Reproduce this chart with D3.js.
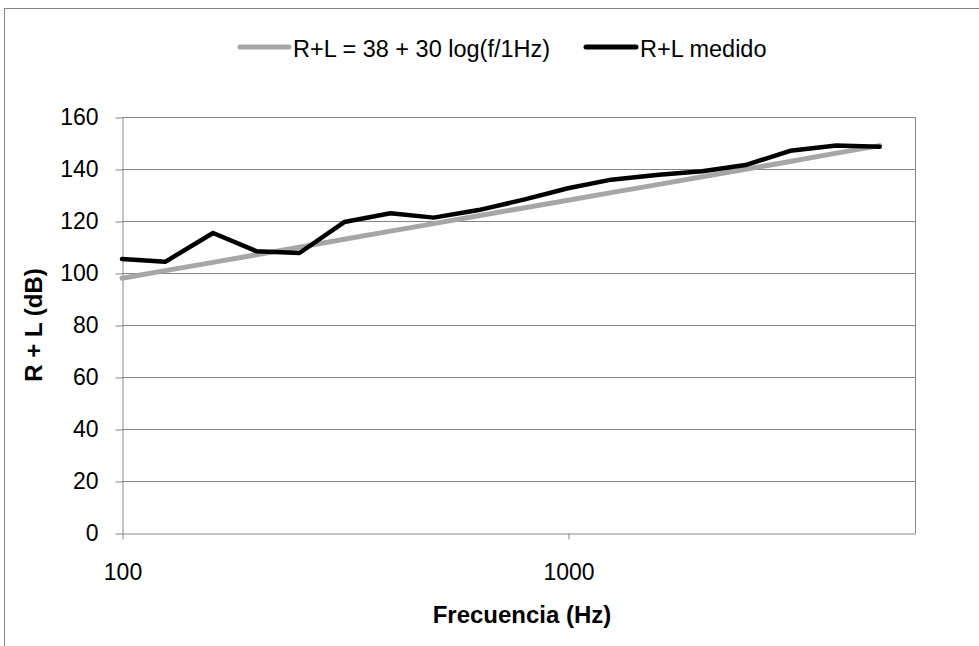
<!DOCTYPE html>
<html>
<head>
<meta charset="utf-8">
<script src="https://cdn.jsdelivr.net/npm/d3@7"></script>
<style>
  html, body { margin: 0; padding: 0; background: #fff; }
  svg { display: block; font-family: "Liberation Sans", Arial, sans-serif; }
</style>
</head>
<body>
<div id="chart"></div>
<script>
// frecuencias de tercio de octava (Hz)
var freqs = [100, 125, 160, 200, 250, 315, 400, 500, 630, 800, 1000, 1250, 1600, 2000, 2500, 3150, 4000, 5000];
// R+L teorico = 38 + 30 log(f/1Hz)
var teorico = [98.0, 100.9, 104.1, 107.0, 109.9, 113.0, 116.1, 119.0, 122.0, 125.1, 128.0, 130.9, 134.1, 137.0, 139.9, 142.9, 146.1, 149.0];
// R+L medido
var medido = [105.4, 104.3, 115.4, 108.4, 107.7, 119.6, 123.0, 121.3, 124.2, 128.3, 132.6, 135.9, 137.8, 139.1, 141.5, 147.0, 149.0, 148.6];
var yTicks = [0, 20, 40, 60, 80, 100, 120, 140, 160];
var xTicks = [100, 1000];
var seriesNames = ['R+L = 38 + 30 log(f/1Hz)', 'R+L medido'];

var W = 979, H = 646;
var plot = { left: 122, right: 915, top: 117, bottom: 533 };
var gridColor = '#868686';
var fontTick = 23;

var svg = d3.select('#chart').append('svg')
  .attr('width', W).attr('height', H);

// marco exterior del grafico (recortado a la derecha y abajo)
svg.append('rect')
  .attr('x', 4.5).attr('y', 8.5)
  .attr('width', W + 10).attr('height', H + 10)
  .attr('fill', '#fff').attr('stroke', gridColor).attr('stroke-width', 1);

var x = d3.scaleLog().domain([100, 6000]).range([plot.left, plot.right]);
var y = d3.scaleLinear().domain([0, 160]).range([plot.bottom, plot.top]);

// lineas de grilla horizontales
svg.append('g').selectAll('line').data(yTicks.filter(function(d) { return d > 0; }))
  .enter().append('line')
  .attr('x1', plot.left).attr('x2', plot.right)
  .attr('y1', function(d) { return Math.round(y(d)) + 0.5; })
  .attr('y2', function(d) { return Math.round(y(d)) + 0.5; })
  .attr('stroke', gridColor).attr('stroke-width', 1);

// borde derecho del area de trazado
svg.append('line')
  .attr('x1', plot.right + 0.5).attr('x2', plot.right + 0.5)
  .attr('y1', plot.top).attr('y2', plot.bottom)
  .attr('stroke', gridColor);

// eje Y
var yAxis = svg.append('g')
  .attr('transform', 'translate(' + (plot.left + 0.5) + ',0.5)')
  .call(d3.axisLeft(y).tickValues(yTicks).tickSize(7).tickPadding(17).tickSizeOuter(0));
yAxis.select('.domain').attr('stroke', gridColor);
yAxis.selectAll('.tick line').attr('stroke', gridColor);
yAxis.selectAll('.tick text').attr('font-size', fontTick).attr('fill', '#000')
  .attr('font-family', '"Liberation Sans", Arial, sans-serif');

// eje X
var xAxis = svg.append('g')
  .attr('transform', 'translate(0.5,' + (plot.bottom + 0.5) + ')')
  .call(d3.axisBottom(x).tickValues(xTicks).tickFormat(d3.format('d')).tickSize(6).tickPadding(24).tickSizeOuter(0));
xAxis.select('.domain').attr('stroke', gridColor);
xAxis.selectAll('.tick line').attr('stroke', gridColor);
xAxis.selectAll('.tick text').attr('font-size', fontTick).attr('fill', '#000')
  .attr('font-family', '"Liberation Sans", Arial, sans-serif');

// series
var line = d3.line()
  .x(function(d) { return x(d[0]); })
  .y(function(d) { return y(d[1]); });

svg.append('path')
  .datum(d3.zip(freqs, teorico))
  .attr('d', line)
  .attr('fill', 'none').attr('stroke', '#a6a6a6').attr('stroke-width', 5)
  .attr('stroke-linejoin', 'round').attr('stroke-linecap', 'round');

svg.append('path')
  .datum(d3.zip(freqs, medido))
  .attr('d', line)
  .attr('fill', 'none').attr('stroke', '#000').attr('stroke-width', 4.5)
  .attr('stroke-linejoin', 'round').attr('stroke-linecap', 'round');

// titulos de ejes
svg.append('text')
  .attr('x', 522).attr('y', 623)
  .attr('text-anchor', 'middle').attr('font-size', 24).attr('font-weight', 'bold')
  .text('Frecuencia (Hz)');

svg.append('text')
  .attr('transform', 'translate(42,' + ((plot.top + plot.bottom) / 2) + ') rotate(-90)')
  .attr('text-anchor', 'middle').attr('font-size', 24).attr('font-weight', 'bold')
  .text('R + L (dB)');

// leyenda
var legend = [
  { name: seriesNames[0], color: '#a6a6a6', x1: 240, x2: 289, tx: 293 },
  { name: seriesNames[1], color: '#000', x1: 586, x2: 636, tx: 640 }
];
var lg = svg.append('g').selectAll('g').data(legend).enter().append('g');
lg.append('line')
  .attr('x1', function(d) { return d.x1; }).attr('x2', function(d) { return d.x2; })
  .attr('y1', 47).attr('y2', 47)
  .attr('stroke', function(d) { return d.color; }).attr('stroke-width', 5)
  .attr('stroke-linecap', 'round');
lg.append('text')
  .attr('x', function(d) { return d.tx; }).attr('y', 57)
  .attr('font-size', 23.5)
  .text(function(d) { return d.name; });
</script>
</body>
</html>
